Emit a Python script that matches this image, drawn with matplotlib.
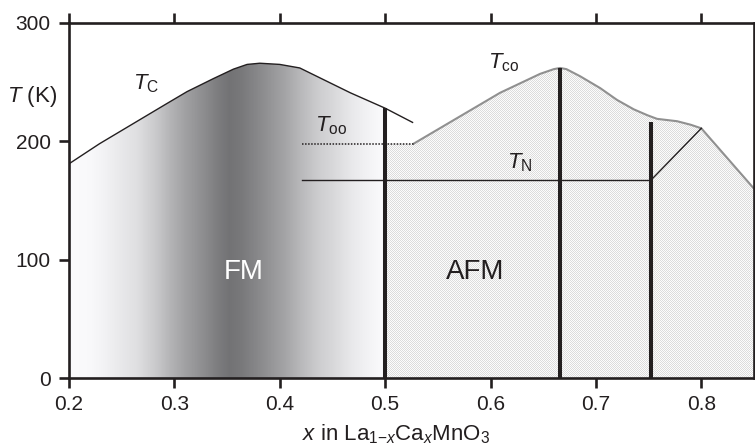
import numpy as np
import matplotlib
matplotlib.use("Agg")
import matplotlib.pyplot as plt
from matplotlib.patches import Polygon
from matplotlib.colors import LinearSegmentedColormap

plt.rcParams["font.family"] = ["Liberation Sans", "DejaVu Sans"]
plt.rcParams["mathtext.fontset"] = "custom"
plt.rcParams["mathtext.rm"] = "Liberation Sans"
plt.rcParams["mathtext.it"] = "Liberation Sans:italic"
plt.rcParams["mathtext.sf"] = "Liberation Sans"

INK = "#231f20"

# Curie temperature boundary of the ferromagnetic phase
tc_x = [0.200, 0.229, 0.261, 0.293, 0.312, 0.337, 0.356, 0.369, 0.381,
        0.400, 0.419, 0.435, 0.467, 0.500, 0.526]
tc_T = [181, 198, 215, 232, 242, 253, 261, 265, 266,
        265, 262, 255, 241, 228, 216]

# Charge-ordering temperature boundary
tco_x = [0.527, 0.609, 0.628, 0.647, 0.660, 0.666, 0.672, 0.685, 0.704,
         0.720, 0.736, 0.749, 0.758, 0.777, 0.790, 0.800, 0.850]
tco_T = [198, 241, 249, 257, 261, 262, 261, 255, 245,
         235, 227, 222, 219, 217, 214, 211, 160]

# Orbital-ordering and Neel temperatures
too_x = [0.421, 0.527]
too_T = 198
tn_x = [0.421, 0.752]
tn_T = 167
tn_kink_x = [0.752, 0.800]
tn_kink_T = [167, 211]

# Commensurate compositions marked by heavy vertical bars
bar_x = [0.500, 0.666, 0.752]
bar_top = [228, 262, 216]

x_ticks = [0.2, 0.3, 0.4, 0.5, 0.6, 0.7, 0.8]
y_ticks = [0, 100, 200, 300]

# Grey shading across the FM dome (position, grey level)
shade_x = [0.200, 0.219, 0.231, 0.264, 0.283, 0.295, 0.311, 0.326, 0.342,
           0.352, 0.364, 0.378, 0.390, 0.406, 0.421, 0.437, 0.454, 0.469,
           0.485, 0.497, 0.500]
shade_v = [0.985, 0.975, 0.955, 0.875, 0.785, 0.71, 0.625, 0.56, 0.485,
           0.45, 0.475, 0.53, 0.58, 0.65, 0.73, 0.805, 0.86, 0.915,
           0.955, 0.98, 0.99]

fig = plt.figure(figsize=(7.55, 4.46), dpi=100)
ax = fig.add_axes([69 / 755, 68 / 446, 685 / 755, 355 / 446])
x0, x1, y0, y1 = 0.2, 0.85, 0, 300

# FM region: horizontal grey gradient clipped under the T_C curve
sx = np.array(shade_x)
pos = (sx - sx[0]) / (sx[-1] - sx[0])
cols = [(v, v, min(1.0, v + 0.008)) for v in shade_v]
cmap = LinearSegmentedColormap.from_list("fm", list(zip(pos, cols)))
ramp = np.linspace(0, 1, 600)[None, :]
fm_verts = [(0.2, 0)] + [(x, t) for x, t in zip(tc_x, tc_T) if x <= 0.5] + [(0.5, 0)]
fm_poly = Polygon(fm_verts, closed=True, transform=ax.transData,
                  facecolor="none", edgecolor="none")
im = ax.imshow(ramp, cmap=cmap, vmin=0, vmax=1, extent=[0.2, 0.5, 0, 300],
               aspect="auto", interpolation="bilinear", zorder=1)
im.set_clip_path(fm_poly)

# AFM region: fine dotted screen under T_oo / T_co
H, W = 355, 685
yy, xx = np.mgrid[0:H, 0:W]
tex = np.where((xx + yy) % 2 == 0, 0.86, 0.985)
afm_verts = ([(0.5, 0), (0.5, too_T), (too_x[1], too_T)]
             + list(zip(tco_x, tco_T)) + [(0.85, 0)])
afm_poly = Polygon(afm_verts, closed=True, transform=ax.transData,
                   facecolor="none", edgecolor="none")
im2 = ax.imshow(tex, cmap="gray", vmin=0, vmax=1, extent=[x0, x1, y0, y1],
                aspect="auto", interpolation="nearest", zorder=1)
im2.set_clip_path(afm_poly)
ax.set_xlim(x0, x1)
ax.set_ylim(y0, y1)

# Phase boundaries
ax.plot(tc_x, tc_T, color=INK, lw=1.0, zorder=3)
ax.plot(tco_x, tco_T, color="#909090", lw=1.5, zorder=3)
ax.plot(too_x, [too_T, too_T], color=INK, lw=1.1, ls=(0, (1, 1)), zorder=3)
ax.plot(tn_x, [tn_T, tn_T], color=INK, lw=1.0, zorder=3)
ax.plot(tn_kink_x, tn_kink_T, color=INK, lw=1.0, zorder=3)
ax.vlines(bar_x, 0, bar_top, color=INK, lw=2.9, zorder=4)

# Labels
fs_t = 16
ax.text(0.2608, 243.5, r"$T_{\mathrm{C}}$", fontsize=fs_t, ha="left", va="baseline", color=INK)
ax.text(0.4336, 208, r"$T_{\mathrm{oo}}$", fontsize=fs_t, ha="left", va="baseline", color=INK)
ax.text(0.598, 262, r"$T_{\mathrm{co}}$", fontsize=fs_t, ha="left", va="baseline", color=INK)
ax.text(0.616, 177.5, r"$T_{\mathrm{N}}$", fontsize=fs_t, ha="left", va="baseline", color=INK)
ax.text(0.3657, 89.5, "FM", fontsize=20, ha="center", va="center", color="white", zorder=5)
ax.text(0.5856, 89.5, "AFM", fontsize=20, ha="center", va="center", color=INK, zorder=5)
ax.text(0.1649, 238, r"$T$ (K)", fontsize=16, ha="center", va="center", color=INK,
        clip_on=False)

ax.set_xticks(x_ticks)
ax.set_xticklabels([f"{v:.1f}" for v in x_ticks])
ax.set_yticks(y_ticks)
ax.set_yticklabels([str(v) for v in y_ticks])
ax.tick_params(direction="out", length=7.2, width=1.9, color=INK, labelcolor=INK,
               labelsize=15, top=True, right=True, labeltop=False, labelright=False)
ax.tick_params(axis="x", pad=5)
ax.tick_params(axis="y", pad=6)
for s in ax.spines.values():
    s.set_linewidth(1.9)
    s.set_color(INK)
    s.set_zorder(6)

ax.set_xlabel(r"$x$ in La$_{1\mathrm{-}x}$Ca$_x$MnO$_3$", fontsize=16, color=INK, va="baseline")
ax.xaxis.set_label_coords((396 - 69) / 685, -(440 - 378) / 355)

fig.savefig("out.png", dpi=100)
